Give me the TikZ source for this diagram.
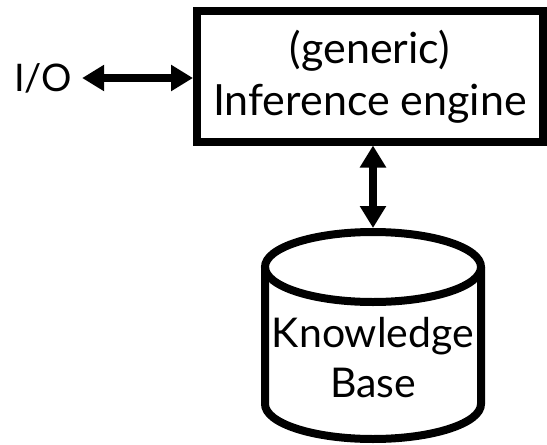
\documentclass[tikz,border=0pt]{standalone}
\usepackage{fontspec}
\setmainfont{Lato}
\usetikzlibrary{arrows.meta}
\begin{document}
\begin{tikzpicture}[x=1pt,y=-1pt,
  lbl/.style={align=center, inner sep=0pt},
  engbox/.style={draw, line width=8pt, minimum width=346pt, minimum height=130.5pt, inner sep=0pt},
  dbl/.style={line width=8pt, {Triangle[length=22pt,width=25pt]}-{Triangle[length=22pt,width=25pt]}},
  cyl/.style={line width=8pt}
]
\useasboundingbox (0,0) rectangle (547,445);
\node[engbox, lbl, font=\fontsize{43}{52}\selectfont] (engine) at (370,76.25) {(generic)\\Inference engine};
\node[lbl, inner xsep=10pt, font=\fontsize{38}{46}\selectfont] (io) at (43,78) {I/O};
\coordinate (kbtop) at (373,228);
% cylinder
\draw[cyl] (373,267) ellipse [x radius=108, y radius=35];
\draw[cyl] (265,267) -- (265,404) arc[start angle=180, end angle=0, x radius=108, y radius=35] -- (481,267);
\node[lbl, font=\fontsize{41}{50}\selectfont] (kb) at (373,358) {Knowledge\\Base};
\draw[dbl] (io.east) -- (io.east -| engine.west);
\draw[dbl] (kbtop |- engine.south) -- (kbtop);
\end{tikzpicture}
\end{document}
